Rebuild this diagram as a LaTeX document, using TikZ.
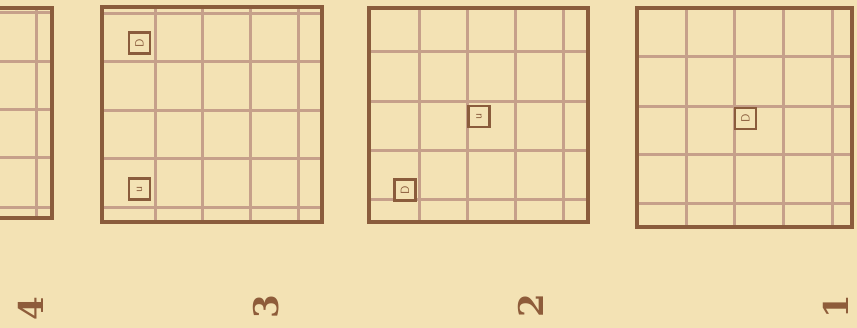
\documentclass[tikz,border=0pt]{standalone}
\usepackage{fontspec}
\newfontfamily\numfont{DejaVu Serif}
\definecolor{paper}{HTML}{F3E2B4}
\definecolor{framebrown}{HTML}{8A5C3C}
\definecolor{gridbrown}{HTML}{C6A08A}
\definecolor{numbrown}{HTML}{8E5C3A}
\tikzset{
  gridline/.style={draw=gridbrown, line width=3pt},
  frame/.style={draw=framebrown, line width=3.4pt},
  cellbox/.style={draw=framebrown, fill=paper, line width=2.4pt, minimum size=21pt, inner sep=0pt, text=framebrown, font=\fontsize{12}{12}\selectfont\sffamily},
  panelnum/.style={text=numbrown, font=\fontsize{34}{34}\selectfont\numfont\bfseries, inner sep=0pt}
}
\begin{document}
\begin{tikzpicture}[x=1pt,y=-1pt]
\fill[paper] (0,0) rectangle (857,328);
\useasboundingbox (0,0) rectangle (857,328);

% Panel 1
\foreach \x in {686,734,783,832} \draw[gridline] (\x,8) -- (\x,227);
\foreach \y in {57,107,155,204} \draw[gridline] (637,\y) -- (852,\y);
\draw[frame] (637,8) rectangle (852,227);
\node[cellbox] (p1a) at (745.5,118.5) {\rotatebox{90}{D}};

% Panel 2
\foreach \x in {419,467,515,563} \draw[gridline] (\x,8) -- (\x,222);
\foreach \y in {52,102,151,200} \draw[gridline] (369,\y) -- (588,\y);
\draw[frame] (369,8) rectangle (588,222);
\node[cellbox] (p2a) at (479,116.5) {\rotatebox{90}{u}};
\node[cellbox] (p2b) at (405,190) {\rotatebox{90}{D}};

% Panel 3
\foreach \x in {155,202,250,298} \draw[gridline] (\x,7) -- (\x,222);
\foreach \y in {14,62,111,159,208} \draw[gridline] (102,\y) -- (322,\y);
\draw[frame] (102,7) rectangle (322,222);
\node[cellbox] (p3a) at (139.5,43) {\rotatebox{90}{D}};
\node[cellbox] (p3b) at (139.5,189) {\rotatebox{90}{u}};

% Panel 4 (cut off)
\draw[gridline] (36,8) -- (36,218);
\foreach \y in {13,62,110,158,208} \draw[gridline] (-5,\y) -- (52,\y);
\draw[frame] (-10,8) -- (52,8) -- (52,218) -- (-10,218);

% Numbers
\node[panelnum] (n4) at (31,309) {\rotatebox{90}{4}};
\node[panelnum] (n3) at (266,307) {\rotatebox{90}{3}};
\node[panelnum] (n2) at (531,306) {\rotatebox{90}{2}};
\node[panelnum] (n1) at (836,307) {\rotatebox{90}{1}};
\end{tikzpicture}
\end{document}
